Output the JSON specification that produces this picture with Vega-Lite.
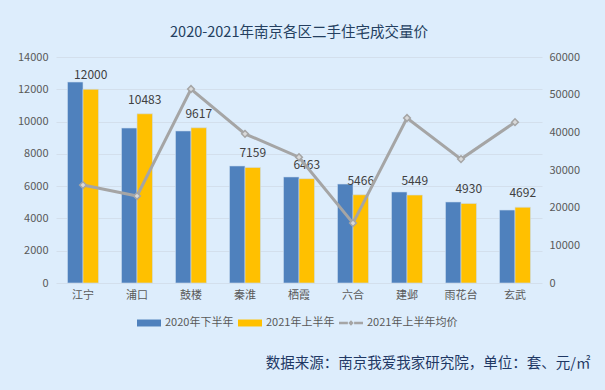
{
  "$schema": "https://vega.github.io/schema/vega-lite/v6.json",
  "autosize": "none",
  "width": 486,
  "height": 226,
  "padding": {"left": 56, "top": 57, "right": 63, "bottom": 107},
  "background": "#ddedfc",
  "config": {
    "view": {"stroke": null},
    "font": "Noto Sans CJK SC",
    "axis": {"labelFont": "Noto Sans CJK SC", "labelColor": "#595959", "labelFontSize": 11, "domain": false, "ticks": false, "labelOverlap": false},
    "legend": {"labelFont": "Noto Sans CJK SC", "labelColor": "#595959", "labelFontSize": 11}
  },
  "title": {
    "text": "2020-2021年南京各区二手住宅成交量价",
    "fontSize": 14.5,
    "fontWeight": "normal",
    "color": "#243f60",
    "anchor": "middle",
    "offset": 11,
    "font": "Noto Sans CJK SC"
  },
  "data": {
    "values": [
      {"区": "江宁", "2020年下半年": 12450, "2021年上半年": 12000, "2021年上半年均价": 26000},
      {"区": "浦口", "2020年下半年": 9600, "2021年上半年": 10483, "2021年上半年均价": 23100},
      {"区": "鼓楼", "2020年下半年": 9420, "2021年上半年": 9617, "2021年上半年均价": 51500},
      {"区": "秦淮", "2020年下半年": 7250, "2021年上半年": 7159, "2021年上半年均价": 39600},
      {"区": "栖霞", "2020年下半年": 6570, "2021年上半年": 6463, "2021年上半年均价": 33400},
      {"区": "六合", "2020年下半年": 6130, "2021年上半年": 5466, "2021年上半年均价": 15900},
      {"区": "建邺", "2020年下半年": 5640, "2021年上半年": 5449, "2021年上半年均价": 43800},
      {"区": "雨花台", "2020年下半年": 5020, "2021年上半年": 4930, "2021年上半年均价": 32900},
      {"区": "玄武", "2020年下半年": 4520, "2021年上半年": 4692, "2021年上半年均价": 42700}
    ]
  },
  "layer": [
    {
      "layer": [
        {
          "transform": [{"fold": ["2020年下半年", "2021年上半年"], "as": ["series", "value"]}],
          "mark": {"type": "bar", "stroke": "#c9dcf0", "strokeWidth": 0.6},
          "encoding": {
            "x": {
              "field": "区", "type": "nominal", "sort": null,
              "scale": {"paddingInner": 0.426, "paddingOuter": 0.213},
              "axis": {
                "title": "数据来源：南京我爱我家研究院，单位：套、元/㎡",
                "labelAngle": 0, "labelPadding": 6, "labelFontSize": 11,
                "titleFont": "Noto Sans CJK SC", "titleFontSize": 14.5, "titleFontWeight": "normal",
                "titleColor": "#1f3864", "titleAnchor": "end", "titleAlign": "right",
                "titleBaseline": "middle", "titleX": 534, "titleY": 80
              }
            },
            "xOffset": {"field": "series", "type": "nominal", "sort": ["2020年下半年", "2021年上半年"], "scale": {"paddingInner": 0, "paddingOuter": 0}},
            "y": {
              "field": "value", "type": "quantitative",
              "scale": {"domain": [0, 14000]},
              "axis": {"title": null, "values": [0, 2000, 4000, 6000, 8000, 10000, 12000, 14000], "format": "d", "grid": true, "gridColor": "#d3dfec", "gridWidth": 1, "labelPadding": 8, "labelOverlap": false}
            },
            "color": {
              "field": "series", "type": "nominal",
              "scale": {"domain": ["2020年下半年", "2021年上半年", "2021年上半年均价"], "range": ["#4f81bd", "#ffc000", "#a5a5a5"]},
              "legend": {
                "title": null, "orient": "none", "direction": "horizontal",
                "legendX": 81, "legendY": 254,
                "symbolSize": 576, "columnPadding": 4, "labelOffset": 4,
                "symbolStrokeWidth": 0,
                "symbolType": {"expr": "datum.value === '2021年上半年均价' ? 'M-1,-0.11H-0.26V0.11H-1Z M0.26,-0.11H1V0.11H0.26Z M0,-0.22L0.22,0L0,0.22L-0.22,0Z' : 'M-1,-0.29H1V0.29H-1Z'"}
              }
            }
          }
        },
        {
          "mark": {"type": "text", "baseline": "bottom", "dy": -7, "fontSize": 12, "color": "#404040", "font": "Noto Sans CJK SC"},
          "encoding": {
            "x": {"field": "区", "type": "nominal", "sort": null},
            "xOffset": {"datum": "2021年上半年"},
            "y": {
              "field": "2021年上半年", "type": "quantitative",
              "axis": {"title": null, "values": [0, 2000, 4000, 6000, 8000, 10000, 12000, 14000], "format": "d", "grid": true, "gridColor": "#d3dfec", "gridWidth": 1, "labelPadding": 8, "labelOverlap": false}
            },
            "text": {"field": "2021年上半年", "type": "quantitative", "format": "d"}
          }
        }
      ]
    },
    {
      "layer": [
        {
          "mark": {"type": "line", "color": "#a5a5a5", "strokeWidth": 3},
          "encoding": {
            "x": {"field": "区", "type": "nominal", "sort": null},
            "y": {
              "field": "2021年上半年均价", "type": "quantitative",
              "scale": {"domain": [0, 60000]},
              "axis": {"title": null, "orient": "right", "values": [0, 10000, 20000, 30000, 40000, 50000, 60000], "format": "d", "grid": false, "labelPadding": 7, "labelOverlap": false}
            }
          }
        },
        {
          "mark": {"type": "point", "shape": "diamond", "filled": true, "size": 45, "fill": "#d9d9d9", "stroke": "#a5a5a5", "strokeWidth": 1.5, "opacity": 1},
          "encoding": {
            "x": {"field": "区", "type": "nominal", "sort": null},
            "y": {
              "field": "2021年上半年均价", "type": "quantitative",
              "axis": {"title": null, "orient": "right", "values": [0, 10000, 20000, 30000, 40000, 50000, 60000], "format": "d", "grid": false, "labelPadding": 7, "labelOverlap": false}
            }
          }
        }
      ]
    }
  ],
  "resolve": {"scale": {"y": "independent"}}
}
